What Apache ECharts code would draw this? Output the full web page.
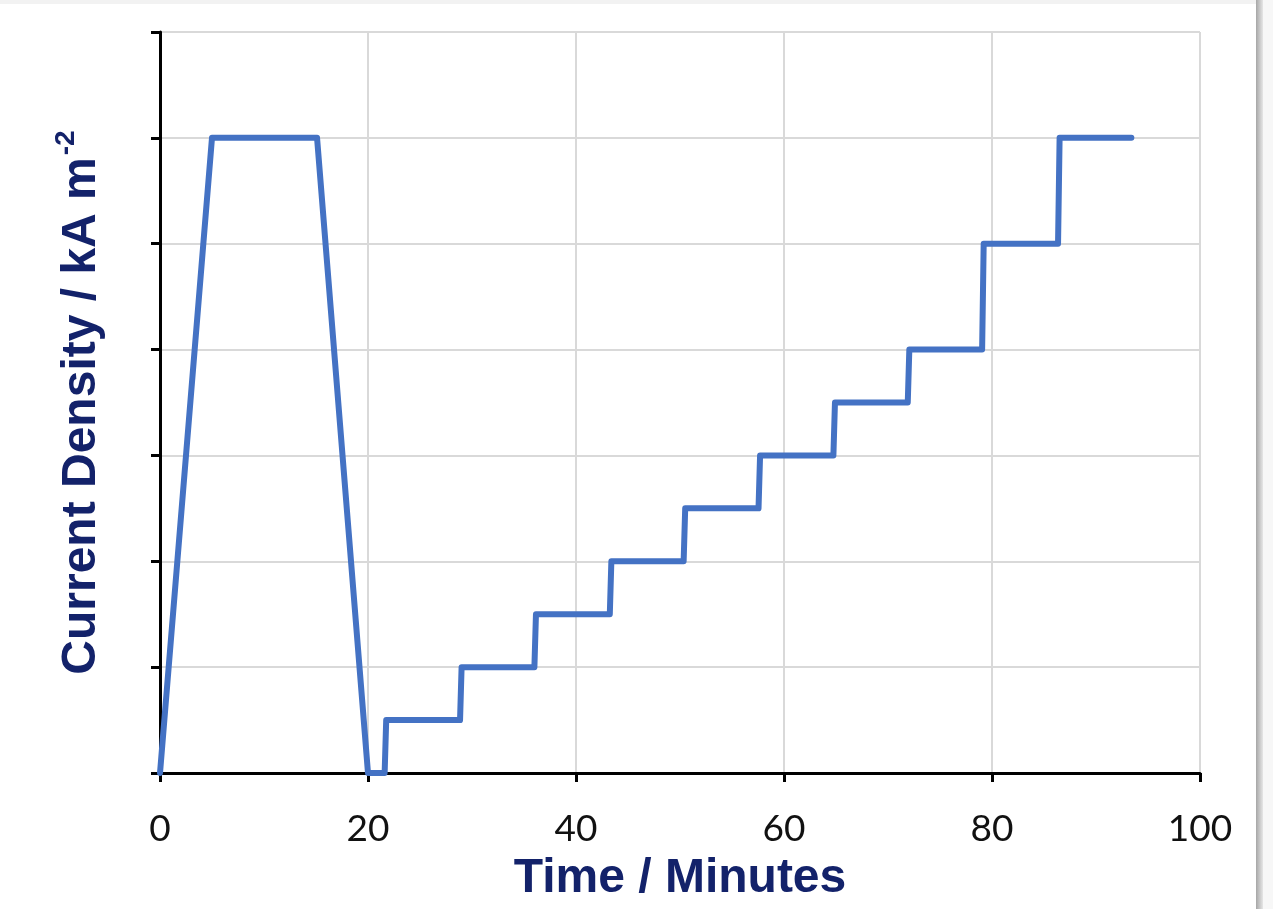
<!DOCTYPE html>
<html>
<head>
<meta charset="utf-8">
<script src="https://cdn.jsdelivr.net/npm/echarts@6/dist/echarts.min.js"></script>
<style>
html,body{margin:0;padding:0;background:#fff;}
#chart{width:1273px;height:909px;}
</style>
</head>
<body>
<div id="chart"></div>
<script>
// Time in minutes
const timeMinutes = [0, 5, 15.1, 20, 21.6, 21.75, 28.85, 29.0, 36.0, 36.15, 43.25, 43.4, 50.35, 50.5, 57.55, 57.7, 64.75, 64.9, 71.9, 72.05, 79.05, 79.2, 86.35, 86.5, 93.4];
// Current density (grid units)
const currentDensity = [0, 6, 6, 0, 0, 0.5, 0.5, 1, 1, 1.5, 1.5, 2, 2, 2.5, 2.5, 3, 3, 3.5, 3.5, 4, 4, 5, 5, 6, 6];
const xTicks = [0, 20, 40, 60, 80, 100];
const xAxisTitle = 'Time / Minutes';
const yAxisTitle = 'Current Density / kA m';
const yAxisSup = '-2';

const seriesData = timeMinutes.map((t, i) => [t, currentDensity[i]]);

const chart = echarts.init(document.getElementById('chart'), null, {renderer: 'canvas'});
chart.setOption({
  backgroundColor: '#ffffff',
  animation: false,
  grid: {left: 160, right: 73, top: 32, bottom: 136, containLabel: false},
  graphic: [
    {type: 'rect', shape: {x: 0, y: 0, width: 1256, height: 4}, style: {fill: '#f2f2f2'}, z: -1},
    {type: 'rect', shape: {x: 1256, y: 0, width: 7, height: 909},
      style: {fill: new echarts.graphic.LinearGradient(0, 0, 1, 0, [
        {offset: 0, color: '#a6a6a6'}, {offset: 1, color: '#e6e6e6'}])}, z: -1},
    {type: 'rect', shape: {x: 1263, y: 0, width: 10, height: 909}, style: {fill: '#f7f7f7'}, z: -1}
  ],
  xAxis: {
    type: 'value', min: 0, max: 100, interval: 20,
    name: xAxisTitle, nameLocation: 'middle', nameGap: 82,
    nameTextStyle: {fontFamily: 'Liberation Sans', fontWeight: 'bold', fontSize: 48, color: '#13226a'},
    axisLine: {show: true, onZero: false, lineStyle: {color: '#000', width: 3}},
    axisTick: {show: true, length: 9, lineStyle: {color: '#000', width: 3}},
    axisLabel: {fontFamily: 'Lato', fontSize: 37, color: '#111', margin: 38,
      formatter: v => xTicks.includes(v) ? String(v) : ''},
    splitLine: {show: true, lineStyle: {color: '#d9d9d9', width: 2}}
  },
  yAxis: {
    type: 'value', min: 0, max: 7, interval: 1,
    name: '{m|' + yAxisTitle + '}{s|' + yAxisSup + '}', nameLocation: 'middle', nameRotate: 90, nameGap: 54,
    nameTextStyle: {
      rich: {
        m: {fontFamily: 'Liberation Sans', fontWeight: 'bold', fontSize: 48, color: '#13226a', lineHeight: 54, verticalAlign: 'bottom'},
        s: {fontFamily: 'Liberation Sans', fontWeight: 'bold', fontSize: 28, color: '#13226a', lineHeight: 54, verticalAlign: 'top', padding: [0, 0, 0, 2]}
      }
    },
    axisLine: {show: true, onZero: false, lineStyle: {color: '#000', width: 3}},
    axisTick: {show: true, length: 9, lineStyle: {color: '#000', width: 3}},
    axisLabel: {show: false},
    splitLine: {show: true, lineStyle: {color: '#d9d9d9', width: 2}}
  },
  series: [{
    type: 'line',
    data: seriesData,
    showSymbol: false,
    symbol: 'none',
    smooth: false,
    lineStyle: {color: '#4472c4', width: 6, cap: 'round', join: 'round'},
    z: 3
  }]
});
</script>
</body>
</html>
